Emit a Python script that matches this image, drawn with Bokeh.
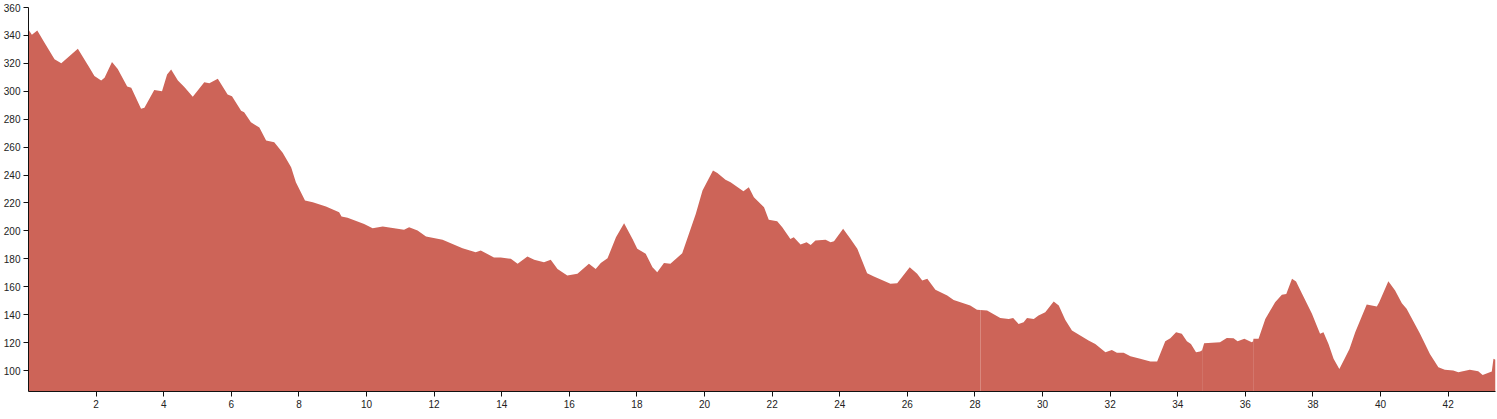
from bokeh.plotting import figure
from bokeh.models import FixedTicker, Range1d
from bokeh.embed import file_html
from bokeh.resources import INLINE

# distance along the route (km) and elevation (m)
dist_km = [0.00, 0.10, 0.26, 0.47, 0.77, 0.97, 1.46, 1.80, 1.95, 2.15, 2.25, 2.47, 2.64, 2.92, 3.04,
           3.33, 3.43, 3.72, 3.95, 4.10, 4.22, 4.42, 4.61, 4.86, 5.20, 5.35, 5.60, 5.89, 6.02, 6.29,
           6.38, 6.58, 6.83, 7.03, 7.27, 7.52, 7.77, 7.91, 8.18, 8.41, 8.80, 9.19, 9.26, 9.44, 9.93,
           10.18, 10.48, 11.11, 11.26, 11.51, 11.76, 12.25, 12.84, 13.23, 13.38, 13.77, 13.97, 14.27,
           14.47, 14.76, 14.96, 15.25, 15.45, 15.65, 15.94, 16.24, 16.58, 16.78, 16.93, 17.13, 17.38,
           17.62, 17.87, 18.01, 18.26, 18.46, 18.60, 18.80, 18.99, 19.34, 19.74, 19.94, 20.25, 20.38,
           20.62, 20.77, 21.15, 21.31, 21.46, 21.76, 21.90, 22.15, 22.30, 22.54, 22.64, 22.84, 23.02,
           23.14, 23.28, 23.58, 23.73, 23.83, 24.10, 24.32, 24.52, 24.81, 25.01, 25.50, 25.70, 26.07,
           26.29, 26.44, 26.59, 26.83, 27.18, 27.37, 27.86, 28.06, 28.16, 28.36, 28.75, 29.00, 29.13,
           29.29, 29.44, 29.54, 29.74, 29.88, 30.08, 30.33, 30.48, 30.67, 30.87, 31.36, 31.56, 31.86,
           32.05, 32.20, 32.40, 32.60, 32.89, 33.19, 33.39, 33.63, 33.78, 33.95, 34.12, 34.27, 34.39,
           34.54, 34.66, 34.72, 34.78, 35.25, 35.45, 35.65, 35.77, 35.97, 36.19, 36.23, 36.24, 36.39,
           36.59, 36.88, 37.08, 37.21, 37.38, 37.50, 37.67, 37.97, 38.11, 38.21, 38.31, 38.46, 38.61,
           38.78, 38.95, 39.08, 39.25, 39.59, 39.89, 39.96, 40.23, 40.43, 40.63, 40.77, 41.16, 41.46,
           41.71, 41.90, 42.15, 42.30, 42.64, 42.89, 43.02, 43.29, 43.34, 43.40]
elev_m = [344, 340.5, 343.5, 335, 323, 320, 330.4, 317, 311, 307.7, 309.7, 321, 316, 303.4, 302.5,
          287.5, 288.2, 301, 300, 312, 315.6, 307.7, 303, 296, 306.5, 305.8, 309, 297.7, 296.5, 286,
          285, 277.9, 274, 264.8, 263.5, 256, 245.6, 234.9, 221.8, 220.6, 217.5, 213.4, 210.3, 209.4, 205,
          202, 203.2, 200.8, 202.6, 200.3, 196, 193.6, 187.6, 184.7, 186, 181, 181, 180,
          176.4, 181.7, 179.3, 177.6, 179.3, 172.8, 168, 169.3, 176.4, 172.8, 177.1, 180.4, 195.5,
          205.5, 194.3, 187.2, 183.6, 174, 170.4, 177.1, 176.4, 184, 212.2, 229, 243.3, 241.4,
          236.6, 234.9, 228.4, 231.3, 224.1, 217, 208, 207, 202.7, 194.3, 195.5, 190.3, 191.9,
          190, 193.1, 193.6, 191.9, 192.6, 201.5, 194.3, 187.2, 169.7, 167.3, 162.1, 162.5, 174,
          169.3, 164.5, 165.7, 157.8, 153.7, 150.6, 146.6, 143.5, 143.3, 143, 137.7, 137, 137.7,
          133.4, 134.6, 137.7, 137, 139.4, 141.8, 149.4, 146.6, 136.3, 128.7, 121.5, 119.1, 113.1,
          114.8, 112.7, 112.7, 110.2, 108.4, 106.4, 106.4, 121, 123.1, 127.4, 126.3, 121, 119.1,
          113.1, 113.6, 114.5, 119.6, 120.3, 123.4, 123.1, 121, 122.7, 120.3, 121, 122.7, 122.7,
          137, 148.9, 154.2, 154.9, 165.7, 163.8, 155.4, 140.6, 132.2, 126.3, 127.4, 119.1, 108.4,
          101.2, 109.1, 115.5, 127.4, 147.3, 145.8, 148.9, 164, 157.3, 148.2, 144.2, 126.7, 111.9,
          102.4, 100.5, 100, 98.8, 100.5, 99.5, 96.9, 99.3, 108.4, 107.7]
segment_breaks_km = [28.16, 34.72, 36.23]

x_ticks = list(range(2, 43, 2))
y_ticks = list(range(100, 361, 20))

p = figure(width=1497, height=419, output_backend="svg", toolbar_location=None,
           x_range=Range1d(0, 43.4), y_range=Range1d(85, 360),
           min_border_left=27, min_border_right=2, min_border_top=7, min_border_bottom=28)
p.outline_line_color = None
p.xgrid.visible = False
p.ygrid.visible = False
p.background_fill_color = "white"
p.border_fill_color = "white"

fill = "#CD6458"
edges = [-1.0] + segment_breaks_km + [1e9]
for a, b in zip(edges[:-1], edges[1:]):
    xs = [d for d in dist_km if a <= d <= b]
    ys = [e for d, e in zip(dist_km, elev_m) if a <= d <= b]
    p.varea(x=xs, y1=[0] * len(xs), y2=ys, fill_color=fill, fill_alpha=1.0)

for ax, ticks in ((p.xaxis, x_ticks), (p.yaxis, y_ticks)):
    ax.ticker = FixedTicker(ticks=ticks)
    ax.axis_line_color = "#111"
    ax.axis_line_width = 1
    ax.major_tick_line_color = "#111"
    ax.major_tick_out = 5
    ax.major_tick_in = 0
    ax.minor_tick_line_color = None
    ax.major_label_text_font = "Liberation Sans"
    ax.major_label_text_font_size = "10px"
    ax.major_label_text_color = "#222"
    ax.major_label_standoff = 3

open("out.html", "w").write(file_html(p, INLINE))
